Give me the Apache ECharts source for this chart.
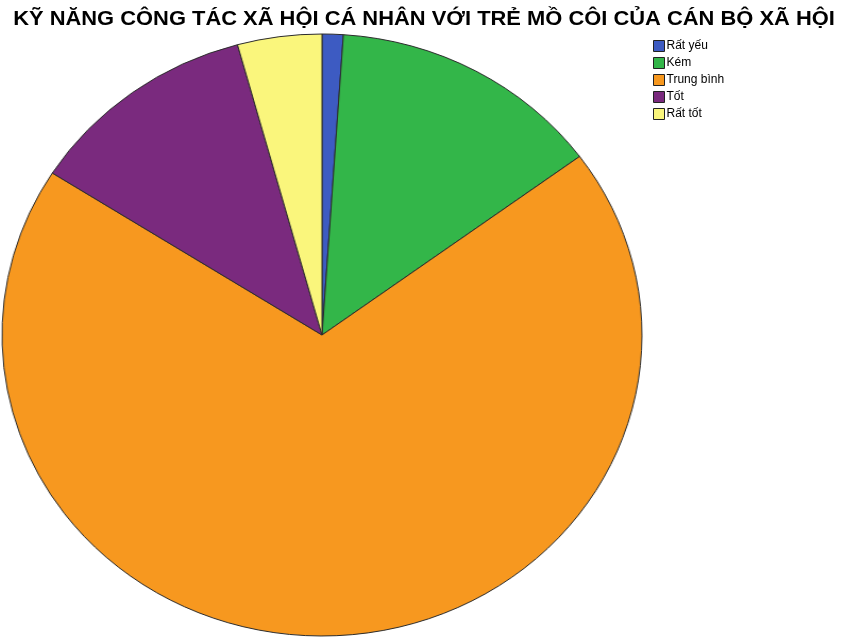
<!DOCTYPE html>
<html>
<head>
<meta charset="utf-8">
<script src="https://cdn.jsdelivr.net/npm/echarts@6/dist/echarts.min.js"></script>
<style>
  html, body { margin: 0; padding: 0; background: #fff; }
  #frame { position: relative; width: 845px; height: 639px; overflow: hidden; }
  #main { position: absolute; left: 0; top: 0; width: 845px; height: 639px; }
  /* the pie is drawn in its own box, widened a little horizontally */
  #pie { position: absolute; left: 20px; top: 33px; width: 604px; height: 604px;
         transform: scaleX(1.063); transform-origin: 50% 50%; }
</style>
</head>
<body>
<div id="frame">
  <div id="main"></div>
  <div id="pie"></div>
</div>
<script>
const titleText = 'KỸ NĂNG CÔNG TÁC XÃ HỘI CÁ NHÂN VỚI TRẺ MỒ CÔI CỦA CÁN BỘ XÃ HỘI';
const categories = ['Rất yếu', 'Kém', 'Trung bình', 'Tốt', 'Rất tốt'];
const counts = [1, 13, 65, 11, 4];
const palette = ['#3d5bc2', '#33b649', '#f7981f', '#7a2a7e', '#faf67c'];

const pieData = categories.map((name, i) => ({ name: name, value: counts[i] }));

// Title (slightly widened lettering) and legend
const mainChart = echarts.init(document.getElementById('main'), null, { renderer: 'canvas' });
mainChart.setOption({
  animation: false,
  color: palette,
  graphic: [{
    type: 'text',
    x: 424,
    y: 9,
    scaleX: 1.095,
    silent: true,
    style: {
      text: titleText,
      x: 0,
      y: 0,
      align: 'center',
      verticalAlign: 'top',
      font: 'bold 20px "Liberation Sans", Arial, sans-serif',
      fill: '#000'
    }
  }],
  legend: {
    orient: 'vertical',
    left: 648,
    top: 35,
    itemWidth: 11,
    itemHeight: 11,
    itemGap: 5,
    icon: 'rect',
    itemStyle: { borderColor: '#222', borderWidth: 1 },
    textStyle: { fontFamily: 'Liberation Sans, Arial', fontSize: 12, color: '#000', padding: [0, 0, 0, -3] },
    data: categories
  },
  series: [{
    type: 'pie',
    radius: 0,
    center: [-1000, -1000],
    silent: true,
    label: { show: false },
    data: pieData
  }]
});

// Pie slices
const pieChart = echarts.init(document.getElementById('pie'), null, { renderer: 'canvas' });
pieChart.setOption({
  animation: false,
  color: palette,
  series: [{
    type: 'pie',
    center: ['50%', '50%'],
    radius: [0, 301],
    startAngle: 90,
    clockwise: true,
    label: { show: false },
    labelLine: { show: false },
    itemStyle: { borderColor: '#2a2a2a', borderWidth: 1 },
    emphasis: { disabled: true },
    data: pieData
  }]
});
</script>
</body>
</html>
